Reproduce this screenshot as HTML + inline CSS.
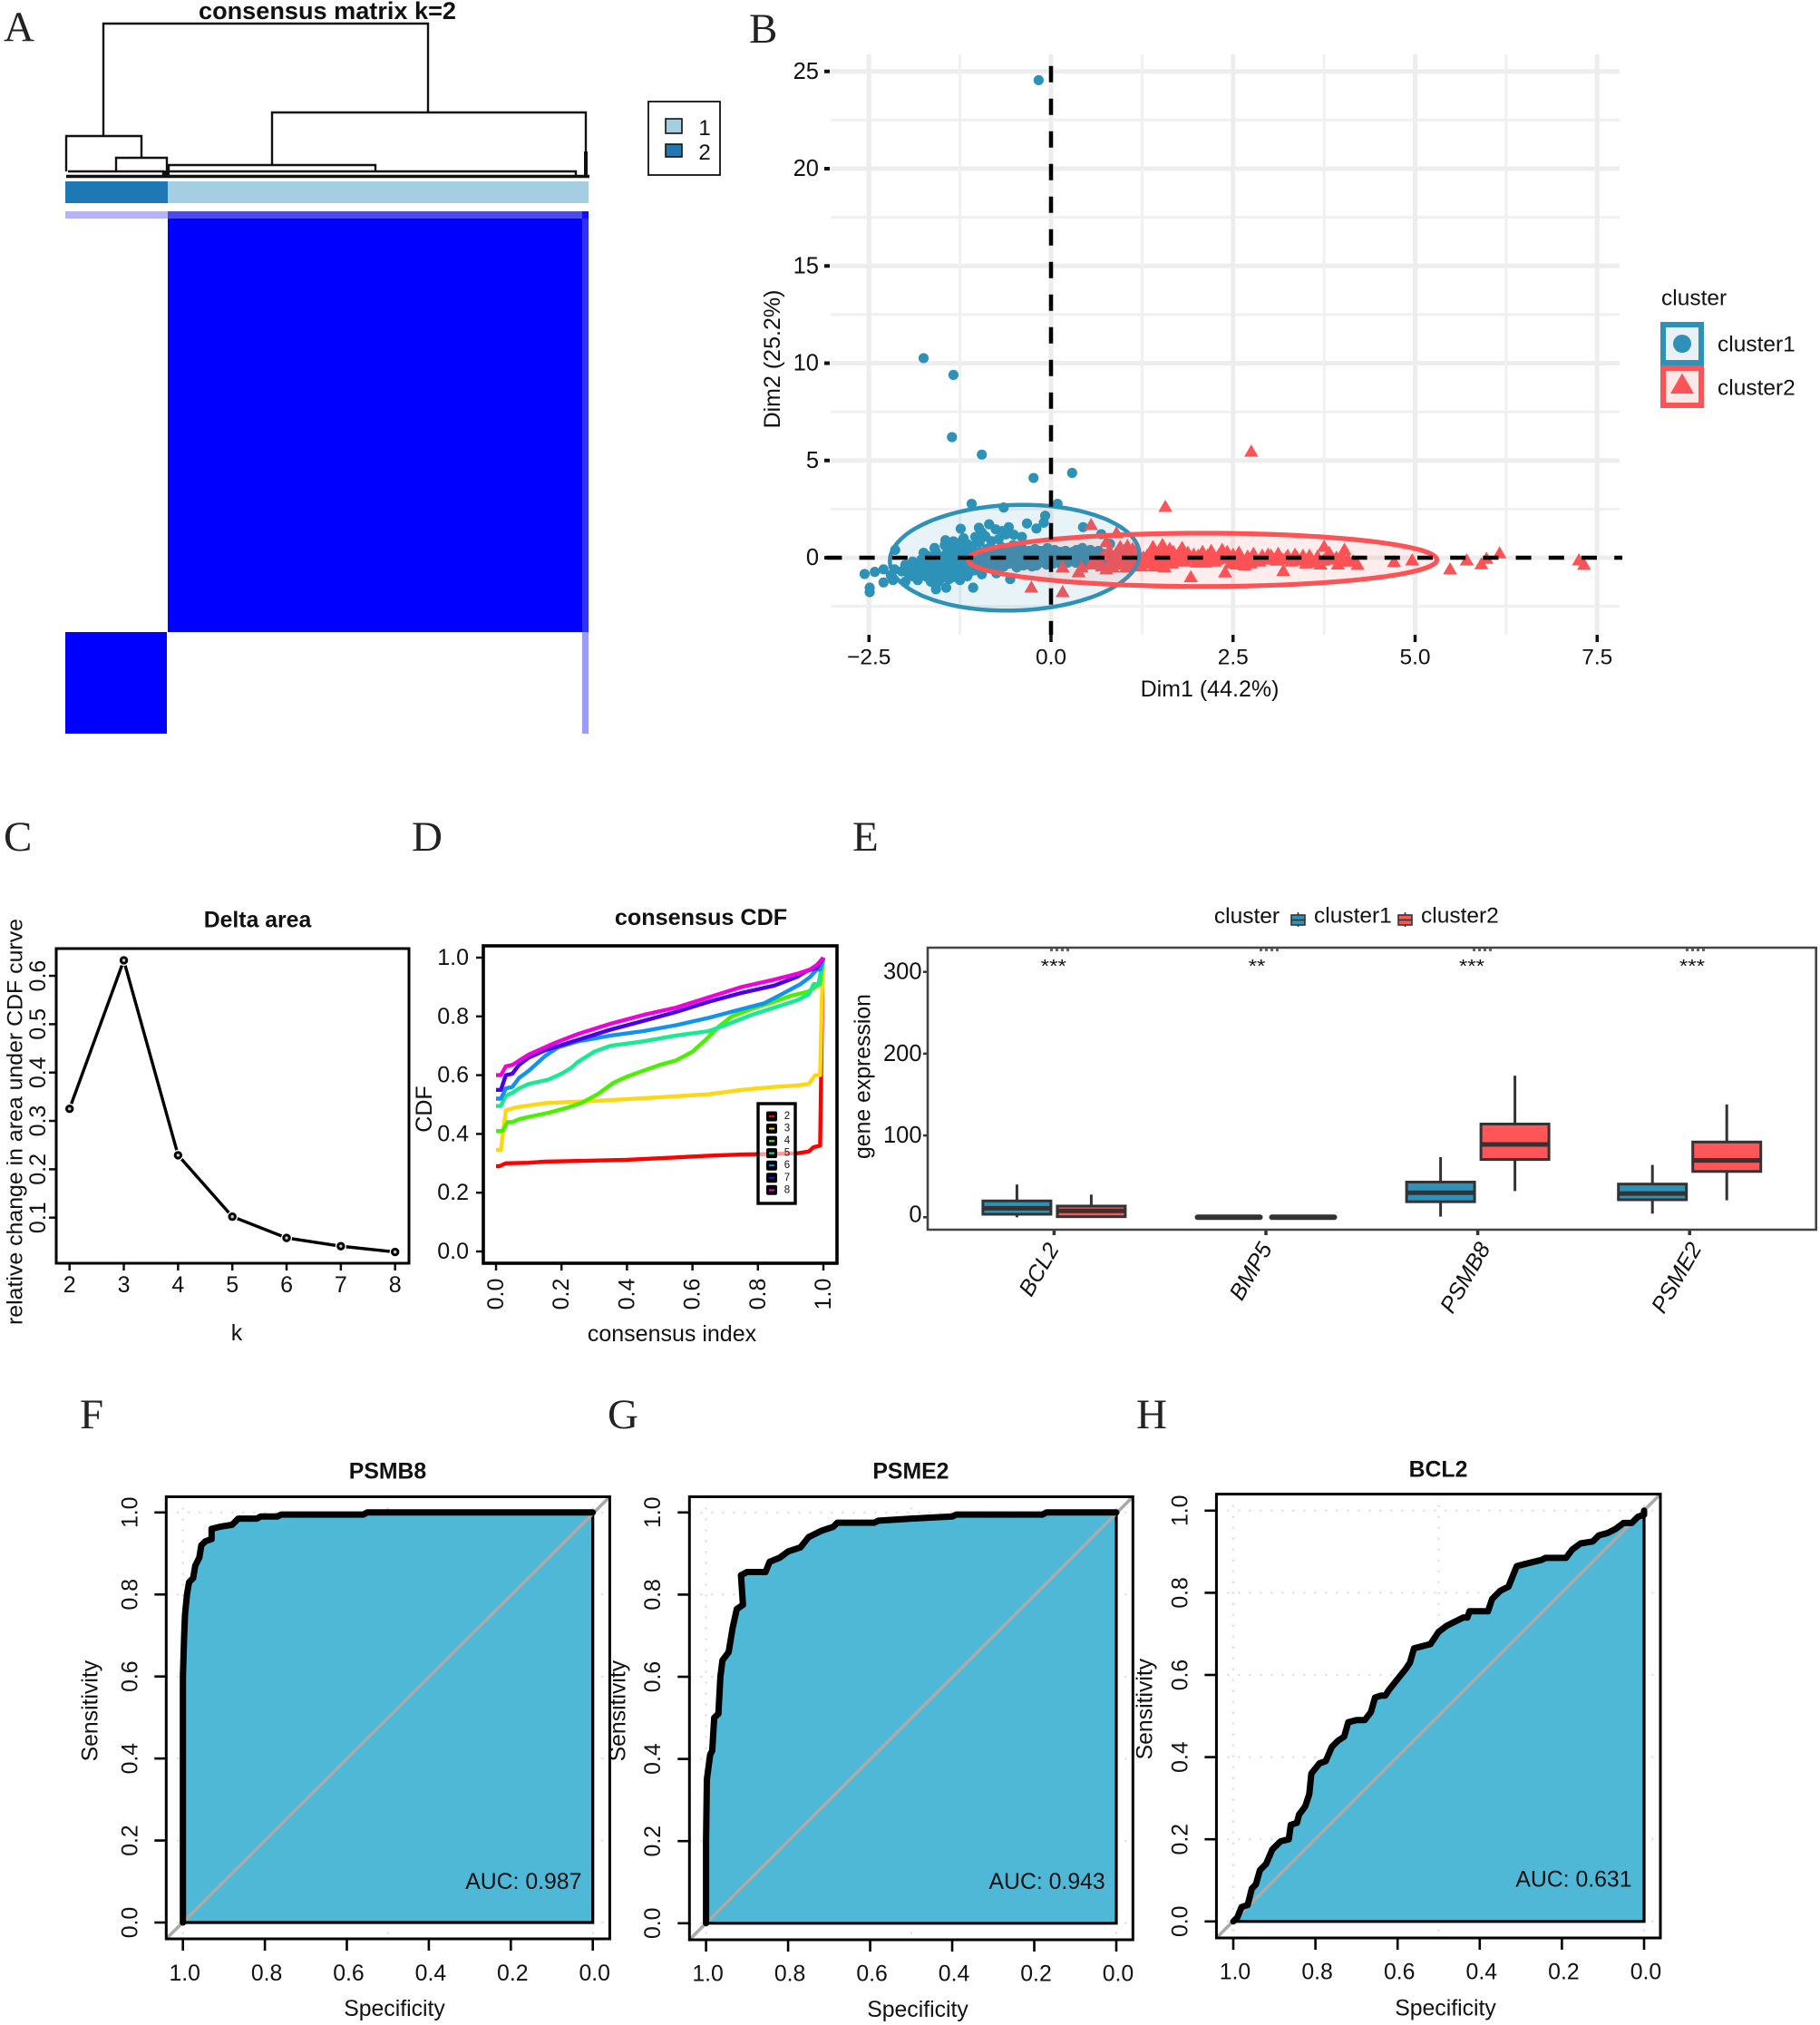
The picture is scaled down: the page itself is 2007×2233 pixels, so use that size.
<!DOCTYPE html>
<html lang="en">
<head>
<meta charset="utf-8">
<title>Consensus clustering figure</title>
<style>
html,body{margin:0;padding:0;background:#fff;}
svg{display:block;}
text{font-family:"Liberation Sans",Arial,sans-serif;fill:#111;}
.letter{font-family:"Liberation Serif",serif;font-size:47px;fill:#222;}
</style>
</head>
<body>
<svg id="fig" xmlns="http://www.w3.org/2000/svg" width="2007" height="2233" viewBox="0 0 2007 2233">
<rect width="2007" height="2233" fill="#fff"/>
<text class="letter" x="4" y="45">A</text>
<text class="letter" x="826" y="47">B</text>
<text class="letter" x="4" y="938">C</text>
<text class="letter" x="454" y="938">D</text>
<text class="letter" x="940" y="938">E</text>
<text class="letter" x="88" y="1575">F</text>
<text class="letter" x="670" y="1575">G</text>
<text class="letter" x="1253" y="1575">H</text>

<g>
  <text x="361" y="21" text-anchor="middle" font-size="27" font-weight="bold" textLength="284" lengthAdjust="spacingAndGlyphs">consensus matrix k=2</text>
  <path fill="none" stroke="#111" stroke-width="2.4" d="M114 150V26H472V124 M73 189V150H156V174 M128 189V174H184V189 M300 182V124H646V167 M186 189V182H414V189 M75 189H180V194 M186 189H635V194"/>
  <path fill="none" stroke="#111" stroke-width="3.4" d="M73 194.5H650 M646 167V194"/>
  <rect x="179" y="188" width="8" height="7" fill="#111"/>
  <rect x="644" y="167" width="4" height="27" fill="#111"/>
  <rect x="72" y="200" width="113" height="24" fill="#1f78b4"/>
  <rect x="185" y="200" width="464" height="24" fill="#a6cee3"/>
  <rect x="72" y="233" width="113" height="8" fill="#b4b4fa"/>
  <rect x="185" y="233" width="457" height="8" fill="#4a4aee"/>
  <rect x="642" y="233" width="7" height="8" fill="#1010ff"/>
  <rect x="185" y="241" width="457" height="456" fill="#0000ff"/>
  <rect x="72" y="697" width="112" height="112" fill="#0000ff"/>
  <rect x="642" y="241" width="7" height="456" fill="#3030f8"/>
  <rect x="642" y="697" width="7" height="112" fill="#9c9cf6"/>
  <g>
    <rect x="715" y="112" width="79" height="81" fill="#fff" stroke="#111" stroke-width="1.8"/>
    <rect x="734" y="131" width="18" height="16" fill="#a6cee3" stroke="#111" stroke-width="1.6"/>
    <rect x="734" y="159" width="18" height="14" fill="#1f78b4" stroke="#111" stroke-width="1.6"/>
    <text x="777" y="149" text-anchor="middle" font-size="24">1</text>
    <text x="777" y="176" text-anchor="middle" font-size="24">2</text>
  </g>
</g>
<g id="panelB"></g>
<g id="panelC"></g>
<g id="panelD"></g>
<g id="panelE"></g>
<g id="panelF"></g>
<g id="panelG"></g>
<g id="panelH"></g>
</svg>
<script>
/* ---------- Panel B data ---------- */
const pcaXTicks = [-2.5, 0, 2.5, 5, 7.5];
const pcaXLabels = ["\u22122.5", "0.0", "2.5", "5.0", "7.5"];
const pcaYTicks = [0, 5, 10, 15, 20, 25];
const cluster1Points = [[-0.17,24.55],[-1.75,10.26],[-1.34,9.4],[-1.36,6.2],[-0.95,5.3],[-0.24,4.1],[0.29,4.36],
[-1.09,2.77],[-0.65,2.58],[0.09,2.77],[-0.08,2.16],[-0.1,1.8],[-0.33,1.76],[-0.2,1.5],[-1.24,1.49],[-0.99,1.54],[-0.85,1.72],[-0.76,1.46],[-0.58,1.57],[-0.67,1.37],[-0.51,1.18],[-0.4,1.07],[-0.9,1.1],[-0.72,0.95],[-1.04,1.07],[-1.22,0.87],[-1.34,0.84],[-1.46,0.64],[0.44,1.57],[0.69,1.21],[0.81,0.71],[-0.95,1.3],[-0.62,1.2],[-0.82,0.85],[-1.15,0.7],[-0.98,0.8],[-1.3,0.5],[-1.1,0.45],
[-2.14,0.4],[-2.3,-0.6],[-2.42,-0.73],[-2.56,-0.84],[-2.49,-1.54],[-2.49,-1.77],[-2.3,-1.27],[-2.17,-1.15],[-2.0,-1.23],[-1.83,-1.15],[-1.65,-1.23],[-1.58,-1.62],[-1.44,-1.54],[-1.07,-1.54],[-0.56,-1.1],[-2.0,-0.37],[-2.15,-0.6],[-2.2,-0.9],[-2.05,-0.7],[-1.95,-0.55],[-1.9,-0.95],[-1.85,-0.3],[-1.8,-0.7],[-1.78,-0.1],[-1.75,-0.9],[-1.7,0.1],[-1.68,-0.5],[-1.62,-0.25],[-1.6,-0.95],[-1.58,0.3],[-1.55,-0.7],[-1.52,0.05],[-1.5,-1.05],[-1.48,-0.4],[-1.45,-0.85],[-1.43,0.25],[-1.4,-1.1],[-1.38,-0.15],[-1.35,0.45],[-1.33,-0.6],[-1.3,-0.75],[-1.28,0.1],[-1.25,-0.35],[-1.23,0.35],[-1.2,-0.8],[-1.18,-0.05],[-1.15,-0.5],[-1.12,0.2],[-1.1,-0.25],[-1.08,0.6],[-1.05,-0.65],[-1.03,0.05],[-1.0,-0.3],[-0.98,0.3],[-0.95,-0.5],[-0.93,0.1],[-0.9,-0.15],[-0.88,0.45],[-0.85,-0.4],[-0.83,0.2],[-0.8,-0.05],[-0.78,-0.6],[-0.75,0.35],[-0.73,0.05],[-0.7,-0.25],[-0.68,0.55],[-0.65,-0.45],[-0.62,0.15],[-0.6,-0.1],[-0.58,0.4],[-0.55,-0.3],[-0.52,0.65],[-0.5,0.05],[-0.47,-0.5],[-0.45,0.25],[-0.42,-0.15],[-0.4,0.5],[-0.38,-0.05],[-0.35,-0.35],[-0.33,0.15],[-0.3,0.35],[-0.28,-0.2],[-0.25,0.05],[-0.22,0.45],[-0.2,-0.4],[-0.18,0.2],[-0.15,-0.1],[-0.12,0.3],[-0.1,-0.25],[-0.08,0.1],[-0.05,0.5],[-0.02,-0.05],[0.0,0.25],[0.03,-0.3],[0.05,0.4],[0.08,0.05],[0.1,-0.15],[0.13,0.3],[0.15,0.15],[0.18,-0.05],[0.2,0.35],[0.23,-0.25],[0.25,0.1],[0.28,0.25],[0.3,-0.1],[0.33,0.05],[0.35,0.4],[0.38,-0.2],[0.4,0.2],[0.43,0.5],[0.45,-0.05],[0.48,0.3],[0.5,0.1],[0.53,-0.3],[0.56,0.2],[0.6,0.05],[0.65,0.35],[0.7,-0.1],[-1.7,-1.0],[-1.55,-1.25],[-1.35,-1.0],[-1.25,-1.15],[-1.15,-0.95],[-0.95,-0.85],[-0.75,-0.8],[-1.6,0.5],[-1.75,0.25],[-1.45,0.9],[-1.2,1.0],[-1.0,0.9],
[-1.95,-0.85],[-1.9,-0.2],[-1.85,-0.6],[-1.8,-0.4],[-1.72,-0.65],[-1.72,-0.2],[-1.68,-0.8],[-1.65,-0.05],[-1.62,-0.6],[-1.58,-0.35],[-1.55,-0.95],[-1.52,-0.55],[-1.5,-0.15],[-1.47,-0.75],[-1.45,-0.3],[-1.42,-0.55],[-1.4,0.05],[-1.38,-0.85],[-1.36,-0.4],[-1.34,0.2],[-1.32,-0.2],[-1.3,-0.55],[-1.28,0.4],[-1.26,-0.9],[-1.24,-0.1],[-1.22,-0.5],[-1.2,0.15],[-1.18,-0.65],[-1.16,-0.2],[-1.14,0.5],[-1.12,-0.75],[-1.1,0.0],[-1.08,-0.45],[-1.06,0.3],[-1.02,-0.15],[-1.0,-0.55],[-0.96,0.05],[-0.92,-0.35],[-0.9,0.25],[-0.86,-0.2],[-0.82,-0.45],[-0.78,0.1],[-0.74,-0.3],[-0.7,0.2],[-0.66,-0.1],[-0.62,-0.35],[-0.58,0.1],[-0.54,-0.15],[-0.5,0.3],[-0.46,-0.25],[-0.42,0.1],[-0.38,-0.4],[-0.34,0.25],[-0.3,-0.1],[-0.26,-0.45],[-0.22,0.1],[-0.18,-0.2],[-0.14,0.35],[-0.1,0.0],[-0.06,-0.35],[-0.02,0.2],[0.02,0.05],[0.06,-0.2],[0.1,0.2],[0.14,-0.35],[0.18,0.1],[0.22,0.05],[0.26,-0.1],[0.3,0.3],[0.34,-0.25],[0.38,0.1],[0.42,0.3],[0.46,-0.2],[0.5,-0.1],[0.54,0.4],[0.58,-0.15],[0.62,0.2],[0.66,-0.25],[0.72,0.2],[0.78,0.05]];
const cluster2Points = [[2.75,5.45],[1.57,2.61],[0.55,1.68],[0.9,1.26],[0.76,0.8],[-0.27,-1.54],[0.16,-1.77],[1.92,-1.0],[2.39,-0.76],[3.19,-0.68],[3.75,0.56],[4.03,0.4],[4.21,-0.37],[4.71,-0.22],[4.96,-0.14],[5.48,-0.6],[5.71,-0.14],[5.91,-0.34],[5.98,-0.06],[6.16,0.22],[7.25,-0.14],[7.32,-0.37],
[0.16,-0.5],[0.38,-0.75],[0.42,-0.5],[0.55,-0.35],[0.62,-0.15],[0.7,-0.45],[0.72,0.1],[0.76,-0.6],[0.8,0.35],[0.82,-0.2],[0.88,0.05],[0.92,-0.35],[0.95,0.55],[0.98,0.1],[1.02,-0.25],[1.05,0.6],[1.08,0.15],[1.1,-0.4],[1.15,0.3],[1.18,-0.1],[1.22,0.05],[1.3,-0.3],[1.35,0.2],[1.4,0.55],[1.42,-0.45],[1.45,0.05],[1.48,-0.2],[1.5,0.3],[1.53,0.65],[1.56,-0.5],[1.6,0.1],[1.63,0.45],[1.66,-0.3],[1.7,0.15],[1.75,0.2],[1.78,-0.1],[1.8,0.5],[1.82,-0.05],[1.85,0.05],[2.05,-0.1],[2.08,0.3],[2.12,-0.25],[2.15,0.1],[2.2,0.35],[2.25,-0.2],[2.3,0.1],[2.35,0.4],[2.38,-0.05],[2.42,0.3],[2.46,-0.3],[2.5,0.15],[2.55,-0.35],[2.58,0.25],[2.62,-0.1],[2.66,-0.4],[2.7,0.05],[2.74,-0.3],[2.78,0.2],[2.82,-0.15],[2.9,0.1],[2.98,0.15],[3.05,-0.05],[3.12,0.2],[3.18,-0.1],[3.25,0.1],[3.3,-0.2],[3.35,0.15],[3.42,-0.15],[3.5,-0.3],[3.55,0.1],[3.62,-0.25],[3.7,-0.35],[3.78,0.0],[3.82,0.25],[3.88,-0.1],[3.94,-0.35],[4.0,0.05],[4.08,-0.1],[4.15,-0.2],
[0.85,-0.5],[0.9,0.25],[0.95,-0.1],[1.0,0.35],[1.03,-0.5],[1.07,0.0],[1.12,0.45],[1.16,-0.3],[1.2,0.2],[1.24,-0.45],[1.27,0.0],[1.32,0.1],[1.36,-0.2],[1.4,0.3],[1.44,-0.3],[1.5,-0.05],[1.55,0.45],[1.58,-0.25],[1.62,-0.05],[1.68,0.3],[1.72,-0.2],[1.76,0.05],[1.84,-0.2],[1.88,0.25],[1.92,-0.05],[1.96,0.15],[2.0,-0.25],[2.02,0.1],[2.06,0.1],[2.1,-0.05],[2.18,-0.1],[2.22,0.15],[2.28,-0.1],[2.34,0.1],[2.44,0.0],[2.52,-0.15],[2.6,0.05],[2.68,-0.15],[2.76,-0.05],[2.86,-0.2],[2.94,-0.1],[3.02,0.1],[3.1,-0.15],[3.22,-0.05],[3.38,0.0],[3.46,0.1],[3.58,-0.1],[3.66,0.05],[3.74,-0.15],[3.92,0.0],[4.04,-0.2]];
const ellipseCluster1 = {cx:-0.5, cy:0, a:1.71, b:2.72, s:0.11};
const ellipseCluster2 = {cx:2.08, cy:-0.11, a:3.22, b:1.37, s:0};

/* ---------- Panel C data ---------- */
const deltaK = [2,3,4,5,6,7,8];
const deltaArea = [0.325,0.632,0.229,0.102,0.058,0.041,0.029];
const deltaYTicks = [0.1,0.2,0.3,0.4,0.5,0.6];

/* ---------- Panel D data ---------- */
const cdfTicks = [0,0.2,0.4,0.6,0.8,1];
const cdfK = ["2","3","4","5","6","7","8"];
const cdfColors = ["#ff0000","#ffd612","#49f000","#17ea90","#0f92f0","#4900e8","#f200d8"];
const cdfK2 = [[0,.29],[.01,.29],[.03,.3],[.1,.302],[.15,.306],[.25,.308],[.4,.312],[.55,.32],[.65,.326],[.75,.33],[.85,.332],[.92,.334],[.955,.34],[.97,.355],[.99,.36],[.993,.6],[.998,1]];
const cdfK3 = [[0,.345],[.015,.345],[.03,.48],[.06,.49],[.1,.497],[.15,.505],[.25,.51],[.35,.515],[.5,.525],[.65,.535],[.75,.55],[.85,.56],[.92,.565],[.955,.57],[.975,.6],[.99,.6],[.995,.85],[1,1]];
const cdfK4 = [[0,.41],[.02,.41],[.035,.44],[.05,.44],[.07,.45],[.1,.458],[.16,.472],[.22,.49],[.26,.505],[.31,.535],[.36,.575],[.4,.595],[.45,.615],[.5,.635],[.55,.65],[.6,.68],[.64,.72],[.68,.765],[.72,.8],[.78,.825],[.85,.85],[.9,.87],[.955,.885],[.975,.9],[.99,.91],[1,1]];
const cdfK5 = [[0,.495],[.015,.495],[.03,.53],[.05,.54],[.07,.555],[.1,.57],[.16,.585],[.2,.605],[.23,.625],[.25,.645],[.3,.68],[.35,.7],[.45,.715],[.55,.735],[.65,.75],[.7,.77],[.78,.805],[.85,.83],[.92,.855],[.955,.875],[.97,.91],[.985,.91],[1,1]];
const cdfK6 = [[0,.52],[.015,.52],[.03,.555],[.05,.56],[.07,.59],[.1,.615],[.15,.665],[.19,.695],[.25,.715],[.35,.735],[.45,.75],[.55,.77],[.65,.795],[.75,.825],[.82,.845],[.88,.88],[.93,.91],[.96,.935],[.98,.96],[.99,.96],[1,1]];
const cdfK7 = [[0,.55],[.015,.55],[.03,.6],[.05,.605],[.07,.635],[.1,.66],[.15,.685],[.25,.72],[.35,.755],[.45,.785],[.55,.815],[.65,.85],[.75,.88],[.85,.905],[.92,.935],[.95,.955],[.98,.965],[1,1]];
const cdfK8 = [[0,.6],[.015,.6],[.03,.63],[.05,.635],[.1,.67],[.18,.71],[.25,.74],[.35,.775],[.45,.805],[.55,.83],[.65,.865],[.75,.9],[.85,.925],[.92,.945],[.96,.96],[.98,.975],[1,1]];

/* ---------- Panel E data ---------- */
const genes = ["BCL2","BMP5","PSMB8","PSME2"];
const exprTicks = [0,100,200,300];
/* [low whisker, Q1, median, Q3, high whisker] */
const boxCluster1 = [[0,3.7,11,20,40],[0,0,0,0,0],[0.7,19,30,43,73.5],[4.4,21.4,29,40.6,64]];
const boxCluster2 = [[0,0.7,7.8,13.7,27.7],[0,0,0,0,0],[32,70.6,89,114,173],[20.7,56,69.5,92,138]];
const sigLabels = ["***","**","***","***"];

/* ---------- ROC data: [specificity, sensitivity] ---------- */
const rocTicks = [0,0.2,0.4,0.6,0.8,1];
const rocPSMB8 = [[1,0],[1,.6],[.997,.7],[.995,.75],[.99,.8],[.985,.83],[.975,.84],[.97,.87],[.96,.89],[.955,.92],[.945,.93],[.93,.935],[.93,.96],[.91,.965],[.88,.97],[.865,.985],[.82,.985],[.81,.99],[.77,.99],[.76,.995],[.56,.995],[.55,1],[0,1]];
const rocPSME2 = [[1,0],[1,.2],[.998,.35],[.99,.41],[.985,.42],[.98,.5],[.97,.51],[.965,.6],[.96,.64],[.945,.66],[.935,.72],[.925,.765],[.91,.775],[.915,.847],[.9,.855],[.855,.855],[.845,.88],[.82,.89],[.8,.905],[.77,.915],[.75,.94],[.72,.955],[.69,.965],[.68,.975],[.59,.975],[.58,.98],[.5,.985],[.4,.99],[.39,.995],[.18,.995],[.17,1],[0,1]];
const rocBCL2 = [[1,0],[.99,.01],[.98,.035],[.965,.04],[.955,.08],[.945,.09],[.935,.125],[.92,.14],[.905,.175],[.885,.195],[.865,.2],[.86,.235],[.845,.24],[.84,.26],[.825,.28],[.815,.31],[.81,.36],[.79,.385],[.775,.39],[.76,.425],[.745,.44],[.73,.45],[.72,.485],[.7,.49],[.68,.49],[.665,.51],[.655,.545],[.64,.55],[.63,.55],[.62,.565],[.6,.59],[.58,.615],[.57,.63],[.56,.665],[.54,.67],[.52,.675],[.5,.705],[.48,.72],[.46,.73],[.44,.74],[.43,.74],[.425,.755],[.38,.755],[.37,.785],[.35,.805],[.33,.815],[.32,.84],[.31,.865],[.29,.87],[.27,.875],[.25,.88],[.24,.885],[.19,.885],[.175,.905],[.155,.92],[.125,.925],[.11,.94],[.09,.945],[.07,.955],[.05,.97],[.03,.97],[.015,.985],[0,.99],[0,1]];

/* ---------- helpers ---------- */
const NS = "http://www.w3.org/2000/svg";
function add(parent, tag, attrs, name, txt){
  const el = document.createElementNS(NS, tag);
  for (const k in attrs) el.setAttribute(k, attrs[k]);
  
  
  if (txt !== undefined) el.textContent = txt;
  parent.appendChild(el);
  return el;
}
function hline(p,x1,x2,y,stroke,w,name,extra){ return add(p,'line',Object.assign({x1:x1,x2:x2,y1:y,y2:y,stroke:stroke,'stroke-width':w},extra||{}),name); }
function vline(p,x,y1,y2,stroke,w,name,extra){ return add(p,'line',Object.assign({x1:x,x2:x,y1:y1,y2:y2,stroke:stroke,'stroke-width':w},extra||{}),name); }
function label(p,x,y,s,size,name,o){
  o=o||{};
  const a={x:x,y:y,'font-size':size,'text-anchor':o.anchor||'middle','dominant-baseline':'central'};
  if(o.rot!==undefined) a.transform='rotate('+o.rot+' '+x+' '+y+')';
  if(o.bold) a['font-weight']='bold';
  if(o.italic) a['font-style']='italic';
  if(o.len){a.textLength=o.len;a.lengthAdjust='spacingAndGlyphs';}
  return add(p,'text',a,name,s);
}
function pathFrom(pts,fx,fy){ return pts.map((q,i)=>(i?'L':'M')+fx(q[0]).toFixed(1)+' '+fy(q[1]).toFixed(1)).join(' '); }

/* ---------- Panel B ---------- */
(function(){
  const g=document.getElementById('panelB');
  const X=v=>1159+80.3*v, Y=v=>615-21.45*v;
  const L=916,R=1786,T=60,B=700;
  for(let v=-2.5;v<=25;v+=2.5){
    const major=(v%5===0);
    hline(g,L,R,Y(v),major?'#ededed':'#f0f0f0',major?5:3,major?'grid-major-y':'grid-minor-y');
  }
  for(let v=-2.5;v<=7.5;v+=1.25){
    const major=(v%2.5===0);
    vline(g,X(v),T,B,major?'#ededed':'#f0f0f0',major?5:3,major?'grid-major-x':'grid-minor-x');
  }
  pcaXTicks.forEach((v,i)=>{
    vline(g,X(v),700,708,'#111',3.5,'x-tick');
    label(g,X(v),725,pcaXLabels[i],24.5,'x-tick-label');
  });
  pcaYTicks.forEach(v=>{
    hline(g,909,915,Y(v),'#111',4,'y-tick');
    label(g,903,Y(v),String(v),25.5,'y-tick-label',{anchor:'end'});
  });
  label(g,1334,760,'Dim1 (44.2%)',25,'x-axis-title');
  label(g,852,396,'Dim2 (25.2%)',25,'y-axis-title',{rot:-90});
  const blue='#2e92b8', red='#fc5356';
  cluster1Points.forEach(q=>{ add(g,'circle',{cx:X(q[0]),cy:Y(q[1]),r:5.6,fill:blue},'cluster1-point'); });
  cluster2Points.forEach(q=>{
    const x=X(q[0]),y=Y(q[1]);
    add(g,'path',{d:'M'+x+' '+(y-8)+'L'+(x+7.8)+' '+(y+5.5)+'L'+(x-7.8)+' '+(y+5.5)+'Z',fill:red},'cluster2-point');
  });
  function ell(e,col,name,sw){
    const n=120; let d='';
    for(let i=0;i<=n;i++){
      const t=i/n*2*Math.PI;
      const dx=e.cx+e.a*Math.cos(t)+e.s*Math.sin(t), dy=e.cy+e.b*Math.sin(t);
      d+=(i?'L':'M')+X(dx).toFixed(1)+' '+Y(dy).toFixed(1);
    }
    add(g,'path',{d:d+'Z',fill:col,'fill-opacity':0.11,stroke:col,'stroke-width':sw},name);
  }
  ell(ellipseCluster1,blue,'cluster1-ellipse',4.5);
  ell(ellipseCluster2,red,'cluster2-ellipse',5.2);
  hline(g,906,1789,Y(0),'#000',4.5,'zero-line-horizontal',{'stroke-dasharray':'17 19.2','stroke-dashoffset':30.8});
  vline(g,X(0),T,B,'#000',4.5,'zero-line-vertical',{'stroke-dasharray':'18 18','stroke-dashoffset':23.3});
  label(g,1832,329,'cluster',24.5,'legend-title',{anchor:'start'});
  add(g,'rect',{x:1834,y:358,width:42,height:42,fill:'#e9f1f7',stroke:blue,'stroke-width':6},'legend-key-cluster1');
  add(g,'rect',{x:1834,y:406,width:42,height:41,fill:'#fde8e8',stroke:red,'stroke-width':6},'legend-key-cluster2');
  add(g,'circle',{cx:1855,cy:379,r:10,fill:blue},'legend-marker-cluster1');
  add(g,'path',{d:'M1855 411.5L1868 434L1842 434Z',fill:red},'legend-marker-cluster2');
  label(g,1894,380,'cluster1',24.5,'legend-label-cluster1',{anchor:'start'});
  label(g,1894,428,'cluster2',24.5,'legend-label-cluster2',{anchor:'start'});
})();

/* ---------- Panel C ---------- */
(function(){
  const g=document.getElementById('panelC');
  const X=k=>76.7+59.83*(k-2), Y=v=>1342.7-533.3*(v-0.1);
  label(g,284,1015,'Delta area',24.8,'chart-title',{bold:true});
  deltaK.forEach(k=>{
    vline(g,X(k),1393,1401,'#111',2.5,'x-tick');
    label(g,X(k),1417,String(k),25,'x-tick-label');
  });
  deltaYTicks.forEach(v=>{
    hline(g,54,62,Y(v),'#111',2.5,'y-tick');
    label(g,42,Y(v),v.toFixed(1),25,'y-tick-label',{rot:-90});
  });
  label(g,261,1470,'k',25,'x-axis-title');
  label(g,17,1237,'relative change in area under CDF curve',24.5,'y-axis-title',{rot:-90,len:448});
  add(g,'path',{d:pathFrom(deltaK.map((k,i)=>[k,deltaArea[i]]),X,Y),fill:'none',stroke:'#000','stroke-width':3.4},'delta-area-line');
  deltaK.forEach((k,i)=>{
    add(g,'circle',{cx:X(k),cy:Y(deltaArea[i]),r:6,fill:'#fff'},'delta-area-point-halo');
    add(g,'circle',{cx:X(k),cy:Y(deltaArea[i]),r:3.2,fill:'#ccc',stroke:'#000','stroke-width':3},'delta-area-point');
  });
  add(g,'rect',{x:62,y:1046,width:389,height:347,fill:'none',stroke:'#000','stroke-width':3},'plot-frame');
})();

/* ---------- Panel D ---------- */
(function(){
  const g=document.getElementById('panelD');
  const X=v=>547+361*v, Y=v=>1380-324*v;
  const series=[cdfK2,cdfK3,cdfK4,cdfK5,cdfK6,cdfK7,cdfK8];
  label(g,773,1012,'consensus CDF',25.2,'chart-title',{bold:true});
  cdfTicks.forEach(v=>{
    hline(g,525,533,Y(v),'#111',2.5,'y-tick');
    label(g,517,Y(v),v.toFixed(1),25,'y-tick-label',{anchor:'end'});
    vline(g,X(v),1393,1401,'#111',2.5,'x-tick');
    label(g,X(v),1427,v.toFixed(1),25,'x-tick-label',{rot:-90});
  });
  label(g,741,1471,'consensus index',25,'x-axis-title');
  label(g,468,1223,'CDF',25,'y-axis-title',{rot:-90});
  series.forEach((s,i)=>{
    add(g,'path',{d:pathFrom(s,X,Y),fill:'none',stroke:cdfColors[i],'stroke-width':4.4,'stroke-linejoin':'round'},'cdf-curve-k'+cdfK[i]);
  });
  add(g,'rect',{x:533,y:1043,width:390,height:350,fill:'none',stroke:'#000','stroke-width':3.6},'plot-frame');
  add(g,'rect',{x:836,y:1217,width:41,height:110,fill:'#fff','fill-opacity':0.6,stroke:'#000','stroke-width':3.4},'cdf-legend-frame');
  cdfK.forEach((k,i)=>{
    const y=1231+13.55*i;
    add(g,'rect',{x:845,y:y-5.5,width:12,height:11,rx:2,fill:'#000'},'cdf-legend-key');
    hline(g,848,854,y,cdfColors[i],2,'cdf-legend-key-color');
    label(g,868,y,k,11.5,'cdf-legend-label');
  });
})();

/* ---------- Panel E ---------- */
(function(){
  const g=document.getElementById('panelE');
  const Y=v=>1342.3-0.902*v, X=i=>1162.4+233.6*i;
  const col1='#2e92b8', col2='#fd5558', ink='#333', w=75;
  label(g,1375,1010.5,'cluster',24.5,'legend-title');
  function key(x,c,name){
    vline(g,x+8.5,1006,1022,ink,1.6,name+'-whisker');
    add(g,'rect',{x:x+1,y:1009,width:15,height:11,fill:c,stroke:ink,'stroke-width':1.6},name);
    hline(g,x+1,x+16,1014.5,ink,1.6,name+'-median');
  }
  key(1423,col1,'legend-key-cluster1');
  label(g,1449,1010,'cluster1',24.5,'legend-label-cluster1',{anchor:'start'});
  key(1541,col2,'legend-key-cluster2');
  label(g,1567,1010,'cluster2',24.5,'legend-label-cluster2',{anchor:'start'});
  exprTicks.forEach(v=>{
    hline(g,1018,1023,Y(v),ink,2.5,'y-tick');
    label(g,1016.5,v===0?Y(v)-3:Y(v),String(v),25.5,'y-tick-label',{anchor:'end'});
  });
  label(g,952,1187,'gene expression',24.8,'y-axis-title',{rot:-90});
  function box(cx,d,c,name){
    vline(g,cx,Y(d[4]),Y(d[0]),ink,3,name+'-whisker');
    if(d[3]===d[1]){
      add(g,'rect',{x:cx-w/2,y:Y(d[2])-3,width:w,height:6,rx:3,fill:ink},name+'-box');
      return;
    }
    add(g,'rect',{x:cx-w/2,y:Y(d[3]),width:w,height:Y(d[1])-Y(d[3]),fill:c,stroke:ink,'stroke-width':3},name+'-box');
    hline(g,cx-w/2,cx+w/2,Y(d[2]),ink,5,name+'-median');
  }
  const sigX=[1161.8,1386,1623,1866], capX=[1170,1401,1636,1871];
  genes.forEach((n,i)=>{
    vline(g,X(i),1356,1362,ink,3.5,'x-tick');
    box(X(i)-41,boxCluster1[i],col1,'box-cluster1-'+n);
    box(X(i)+41,boxCluster2[i],col2,'box-cluster2-'+n);
    label(g,sigX[i],1066,sigLabels[i],20,'significance-'+n,{len:sigLabels[i].length*9.4});
    hline(g,capX[i]-12,capX[i]+12,1047.5,'#666',3,'clipped-significance-'+n,{'stroke-dasharray':'3 3'});
  });
  const lblPos=[[1146,1400],[1379.5,1402],[1616,1409],[1849,1409]];
  genes.forEach((n,i)=>{
    label(g,lblPos[i][0],lblPos[i][1],n,25,'x-tick-label',{rot:-60,italic:true});
  });
  add(g,'path',{d:'M1023 1045H2002.7V1356H1023Z',fill:'none',stroke:'#444','stroke-width':2.6},'plot-frame');
})();

/* ---------- ROC panels ---------- */
function roc(id,data,cfg){
  const g=document.getElementById(id);
  const X=v=>cfg.x0+(cfg.x1-cfg.x0)*(1-v), Y=v=>cfg.y0-(cfg.y0-cfg.y1)*v;
  label(g,cfg.titleX,cfg.titleY,cfg.title,24.8,'chart-title',{bold:true});
  rocTicks.forEach(v=>{
    hline(g,cfg.fl,cfg.fr,Y(v),'#d8d8d8',2,'grid-dotted-horizontal',{'stroke-dasharray':'2 10'});
  });
  [1,0.5,0].forEach(v=>{ vline(g,X(v),cfg.ft,cfg.fb,'#d8d8d8',2,'grid-dotted-vertical',{'stroke-dasharray':'2 10'}); });
  const poly=data.concat([[0,0]]);
  add(g,'path',{d:pathFrom(poly,X,Y)+'Z',fill:'#4eb8d6',stroke:'#000','stroke-width':3.2},'roc-area-fill');
  add(g,'line',{x1:cfg.fl,y1:cfg.fb,x2:cfg.fr,y2:cfg.ft,stroke:'#aaa','stroke-width':3.6},'diagonal-reference');
  add(g,'path',{d:pathFrom(data,X,Y),fill:'none',stroke:'#000','stroke-width':7,'stroke-linejoin':'round','stroke-linecap':'round'},'roc-curve');
  add(g,'rect',{x:cfg.fl,y:cfg.ft,width:cfg.fr-cfg.fl,height:cfg.fb-cfg.ft,fill:'none',stroke:'#000','stroke-width':3},'plot-frame');
  rocTicks.forEach(v=>{
    vline(g,X(v),cfg.fb,cfg.fb+13,'#000',2.6,'x-tick');
    label(g,X(v)+2,cfg.xLabY,v.toFixed(1),24.8,'x-tick-label');
    hline(g,cfg.fl-13,cfg.fl,Y(v),'#000',2.6,'y-tick');
    label(g,cfg.yLabX,Y(v),v.toFixed(1),24.8,'y-tick-label',{rot:-90});
  });
  label(g,cfg.specX,cfg.specY,'Specificity',24.8,'x-axis-title');
  label(g,cfg.sensX,cfg.sensY,'Sensitivity',24.8,'y-axis-title',{rot:-90});
  label(g,cfg.aucX,cfg.aucY,cfg.auc,24.8,'auc-label',{anchor:'end'});
}
roc('panelF',rocPSMB8,{title:'PSMB8',auc:'AUC: 0.987',x0:201.7,x1:653.7,y0:2120,y1:1667.8,fl:183.3,fr:672.4,ft:1650.5,fb:2138,titleX:427.5,titleY:1623,xLabY:2176.5,yLabX:144,specX:435,specY:2215.6,sensX:100,sensY:1886.6,aucX:641.4,aucY:2075.6});
roc('panelG',rocPSME2,{title:'PSME2',auc:'AUC: 0.943',x0:778.6,x1:1231,y0:2120.8,y1:1667.8,fl:760.3,fr:1249.3,ft:1650.5,fb:2139,titleX:1004.4,titleY:1623,xLabY:2177,yLabX:720.5,specX:1012,specY:2216.5,sensX:682,sensY:1886.6,aucX:1218.7,aucY:2075.6});
roc('panelH',rocBCL2,{title:'BCL2',auc:'AUC: 0.631',x0:1360,x1:1813,y0:2118.8,y1:1665.8,fl:1341.4,fr:1831,ft:1647.6,fb:2137,titleX:1586,titleY:1621,xLabY:2175,yLabX:1302,specX:1594,specY:2214.8,sensX:1263,sensY:1884.6,aucX:1799.5,aucY:2073});
</script>
</body>
</html>
